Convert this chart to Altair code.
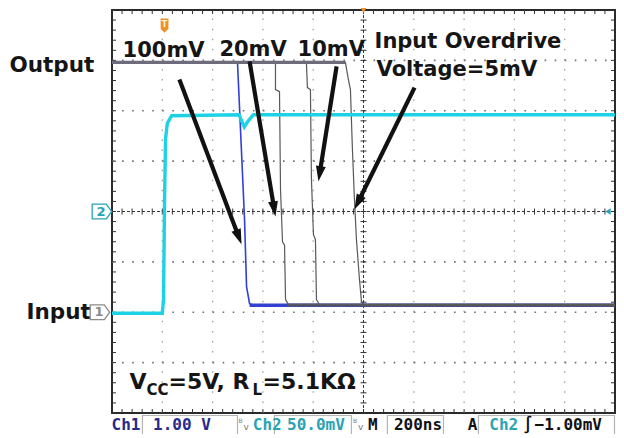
import math
import pandas as pd
import altair as alt

# ---------------- scope screen geometry (data units) ----------------
W, H = 503, 403                 # plot area in px
T_MIN, T_MAX = -1000, 1000      # time in ns (200 ns/div, trigger at 0)
V_MIN, V_MAX = -4, 4            # vertical divisions from screen centre

# ---------------- data ----------------
# Input (Ch2, cyan)
input_t = [-1000, -800, -795, -791, -787, -780, -763, -495, -474, -458, -438, 1000]
input_v = [-2.02, -2.02, -1.75, 0.25, 1.45, 1.75, 1.90, 1.92, 1.68, 1.80, 1.92, 1.92]

# Output traces for each input overdrive
od100_t = [-1000, -501, -473, -465, -453, -429, 1000]
od100_v = [2.96, 2.96, -0.16, -1.49, -1.83, -1.87, -1.87]
od20_t = [-1000, -350, -350, -334, -330, -322, -314, -310, -298, 1000]
od20_v = [2.96, 2.96, 2.42, 2.38, 0.44, -0.60, -0.67, -1.75, -1.85, -1.85]
od10_t = [-1000, -227, -223, -211, -207, -199, -191, -187, -175, 1000]
od10_v = [2.96, 2.96, 2.46, 2.42, 0.63, -0.46, -0.56, -1.75, -1.85, -1.85]
od5_t = [-1000, -72, -60, -52, -44, -36, -28, -16, -8, 4, 1000]
od5_v = [2.96, 2.96, 2.62, 2.42, 1.23, 0.24, -0.56, -1.35, -1.79, -1.87, -1.87]

# thick noisy bands of the overlapping output levels
high_band_t = [-1000, -72]
high_band_v = [2.96, 2.96]
blue_band_t = [-453, 1000]
blue_band_v = [-1.86, -1.86]
gray_band_t = [-305, 1000]
gray_band_v = [-1.86, -1.86]

# arrows (start -> tip)
arrow_t0 = [-732, -453, -107, 203]
arrow_v0 = [2.62, 2.98, 2.88, 2.46]
arrow_t1 = [-485, -350, -179, -36]
arrow_v1 = [-0.65, -0.10, 0.60, 0.04]

# annotation labels
ann_text = ["100mV", "20mV", "10mV", "Input Overdrive", "Voltage=5mV"]
ann_t = [-958, -573, -262, 44, 52]
ann_v = [3.06, 3.08, 3.08, 3.25, 2.68]
side_text = ["Output", "Input"]
side_t = [-1408, -1340]
side_v = [2.76, -2.14]

# V_CC / R_L caption pieces (text, size, dx px, dy px)
cap_t, cap_v = -930, -3.53
cap_pieces = [("V", 22, 0, 0), ("CC", 15, 17, 6), ("=5V, R", 22, 39, 0),
              ("L", 15, 123, 6), ("=5.1KΩ", 22, 133, 0)]

# status bar
NAVY, TEAL, BLACK = "#262a8c", "#2aa3b3", "#111111"
status_text = ["Ch1", "1.00 V", "Ch2", "50.0mV", "M", "200ns", "A", "Ch2", "∫", "−1.00mV"]
status_t = [-1002, -837, -440, -304, 18, 121, 415, 500, 634, 680]
status_col = [NAVY, NAVY, TEAL, TEAL, BLACK, BLACK, BLACK, TEAL, BLACK, BLACK]
status_v = -4.345
box_t0 = [-879, -354, 95, 457]
box_t1 = [-501, -48, 318, 998]
bw_t = [-497, -42]

# ---------------- helpers ----------------
xs = alt.Scale(domain=[T_MIN, T_MAX], nice=False, zero=False)
ys = alt.Scale(domain=[V_MIN, V_MAX], nice=False, zero=False)
PX_T = W / (T_MAX - T_MIN)
PX_V = H / (V_MAX - V_MIN)


def X(f):
    return alt.X(f + ":Q", scale=xs, axis=None)


def Y(f):
    return alt.Y(f + ":Q", scale=ys, axis=None)


def line_df(t, v):
    return pd.DataFrame({"t": t, "v": v, "i": list(range(len(t)))})


def trace(t, v, color, width, opacity=1.0):
    return alt.Chart(line_df(t, v)).mark_line(
        color=color, strokeWidth=width, opacity=opacity, interpolate="linear"
    ).encode(x=X("t"), y=Y("v"), order="i:Q")


layers = []

# ---------------- graticule ----------------
grid_t = [-800, -600, -400, -200, 200, 400, 600, 800]
grid_v = [-3, -2, -1, 1, 2, 3]
vg = pd.DataFrame({"t": grid_t, "v0": V_MIN, "v1": V_MAX})
layers.append(alt.Chart(vg).mark_rule(color="#a0a0a0", strokeWidth=1.3,
                                      strokeDash=[1.5, H / 40 - 1.5])
              .encode(x=X("t"), y=Y("v0"), y2=alt.Y2("v1")))
hg = pd.DataFrame({"v": grid_v, "t0": T_MIN, "t1": T_MAX})
layers.append(alt.Chart(hg).mark_rule(color="#707070", strokeWidth=1.6,
                                      strokeDash=[1.6, W / 50 - 1.6])
              .encode(y=Y("v"), x=X("t0"), x2=alt.X2("t1")))

# centre cross lines
cx = pd.DataFrame({"t": [0], "v0": [V_MIN], "v1": [V_MAX]})
layers.append(alt.Chart(cx).mark_rule(color="#3a3a3a", strokeWidth=1, strokeDash=[3, 2])
              .encode(x=X("t"), y=Y("v0"), y2=alt.Y2("v1")))
cy = pd.DataFrame({"v": [0], "t0": [T_MIN], "t1": [T_MAX]})
layers.append(alt.Chart(cy).mark_rule(color="#3a3a3a", strokeWidth=1, strokeDash=[3, 2])
              .encode(y=Y("v"), x=X("t0"), x2=alt.X2("t1")))

# minor ticks on frame and centre lines
minor_t = [T_MIN + 40 * i for i in range(51)]
minor_v = [V_MIN + 0.2 * i for i in range(41)]
ft_v = 4 / PX_V
ft_t = 4 / PX_T
ct_v = 3 / PX_V
ct_t = 3 / PX_T
rows = []
for t in minor_t:
    rows.append((t, t, V_MIN, V_MIN + ft_v))
    rows.append((t, t, V_MAX - ft_v, V_MAX))
    rows.append((t, t, -ct_v, ct_v))
for v in minor_v:
    rows.append((T_MIN, T_MIN + ft_t, v, v))
    rows.append((T_MAX - ft_t, T_MAX, v, v))
    rows.append((-ct_t, ct_t, v, v))
ticks = pd.DataFrame(rows, columns=["t0", "t1", "v0", "v1"])
layers.append(alt.Chart(ticks).mark_rule(color="#333333", strokeWidth=1)
              .encode(x=X("t0"), x2=alt.X2("t1"), y=Y("v0"), y2=alt.Y2("v1")))

# ---------------- output traces ----------------
layers.append(trace(blue_band_t, blue_band_v, "#3444c8", 3.4))
layers.append(trace(od100_t, od100_v, "#3040d8", 1.6))
layers.append(trace(gray_band_t, gray_band_v, "#50526e", 3.2, 0.9))
layers.append(trace(od20_t, od20_v, "#585858", 1.2))
layers.append(trace(od10_t, od10_v, "#585858", 1.2))
layers.append(trace(od5_t, od5_v, "#585858", 1.2))
layers.append(trace(high_band_t, high_band_v, "#6c6c7c", 3.4))

# ---------------- input trace ----------------
layers.append(trace(input_t, input_v, "#1ed2e6", 3.4))

# ---------------- arrows ----------------
arr = pd.DataFrame({"t0": arrow_t0, "v0": arrow_v0, "t1": arrow_t1, "v1": arrow_v1})
dxp = (arr.t1 - arr.t0) * PX_T
dyp = -(arr.v1 - arr.v0) * PX_V
L = (dxp ** 2 + dyp ** 2) ** 0.5
ux, uy = dxp / L, dyp / L
arr["te"] = arr.t1 - 10 * ux / PX_T
arr["ve"] = arr.v1 + 10 * uy / PX_V
arr["ang"] = [math.degrees(math.atan2(a, -b)) % 360 for a, b in zip(dxp, dyp)]
layers.append(alt.Chart(arr).mark_rule(color="#111111", strokeWidth=4.2, strokeCap="butt")
              .encode(x=X("t0"), y=Y("v0"), x2=alt.X2("te"), y2=alt.Y2("ve")))
layers.append(alt.Chart(arr).mark_point(shape="M0,0L0.55,1.7L-0.55,1.7Z", filled=True,
                                        size=324, color="#111111", opacity=1,
                                        strokeWidth=0)
              .encode(x=X("t1"), y=Y("v1"), angle=alt.Angle("ang:Q", scale=None)))

# ---------------- text ----------------
FONT = "DejaVu Sans"
ann = pd.DataFrame({"t": ann_t, "v": ann_v, "txt": ann_text})
layers.append(alt.Chart(ann).mark_text(font=FONT, fontWeight="bold", fontSize=21,
                                       color="#151515", align="left",
                                       baseline="alphabetic")
              .encode(x=X("t"), y=Y("v"), text="txt:N"))
side = pd.DataFrame({"t": side_t, "v": side_v, "txt": side_text})
layers.append(alt.Chart(side).mark_text(font=FONT, fontWeight="bold", fontSize=21.5,
                                        color="#151515", align="left",
                                        baseline="alphabetic")
              .encode(x=X("t"), y=Y("v"), text="txt:N"))
cap_df = pd.DataFrame({"t": [cap_t], "v": [cap_v]})
for txt, size, dx, dy in cap_pieces:
    layers.append(alt.Chart(cap_df).mark_text(font=FONT, fontWeight="bold", fontSize=size,
                                              color="#151515", align="left",
                                              baseline="alphabetic", dx=dx, dy=dy,
                                              text=txt)
                  .encode(x=X("t"), y=Y("v")))

# ---------------- scope markers ----------------
trig = pd.DataFrame({"t": [-791], "v": [3.69]})
layers.append(alt.Chart(trig).mark_point(shape="M-0.55,-1L0.55,-1L0.55,0.45L0,1L-0.55,0.45Z",
                                         filled=True, size=200, color="#f0902a",
                                         opacity=1, strokeWidth=0)
              .encode(x=X("t"), y=Y("v")))
layers.append(alt.Chart(trig).mark_text(text="T", font=FONT, fontWeight="bold", fontSize=8,
                                        color="#fff3d6", dy=-1)
              .encode(x=X("t"), y=Y("v")))
tpos = pd.DataFrame({"t": [0], "v": [4.0]})
layers.append(alt.Chart(tpos).mark_point(shape="triangle-down", filled=True, size=45,
                                         color="#f0902a", opacity=1)
              .encode(x=X("t"), y=Y("v")))
ch_mark = pd.DataFrame({"t": [-1040, -1048], "v": [0.0, -2.0],
                        "lab": ["2", "1"], "col": [TEAL, "#8a8a8a"]})
layers.append(alt.Chart(ch_mark).mark_point(shape="M-1,-0.75L0.45,-0.75L1,0L0.45,0.75L-1,0.75Z",
                                            filled=False, size=380, strokeWidth=1.3,
                                            opacity=1)
              .encode(x=X("t"), y=Y("v"), color=alt.Color("col:N", scale=None)))
layers.append(alt.Chart(ch_mark).mark_text(font=FONT, fontWeight="bold", fontSize=13,
                                           baseline="middle", dx=-1)
              .encode(x=X("t"), y=Y("v"), text="lab:N", color=alt.Color("col:N", scale=None)))
rmark = pd.DataFrame({"t": [972], "v": [0.0]})
layers.append(alt.Chart(rmark).mark_point(shape="triangle-left", filled=True, size=40,
                                          color=TEAL, opacity=1)
              .encode(x=X("t"), y=Y("v")))

# ---------------- status bar ----------------
boxes = pd.DataFrame({"t0": box_t0, "t1": box_t1, "v0": -4.05, "v1": -4.46})
layers.append(alt.Chart(boxes).mark_rect(fill=None, stroke="#b4b4b4", strokeWidth=1.2)
              .encode(x=X("t0"), x2=alt.X2("t1"), y=Y("v0"), y2=alt.Y2("v1")))
st = pd.DataFrame({"t": status_t, "v": status_v, "txt": status_text, "col": status_col})
layers.append(alt.Chart(st).mark_text(font="DejaVu Sans Mono", fontWeight="bold", fontSize=16,
                                      align="left", baseline="alphabetic")
              .encode(x=X("t"), y=Y("v"), text="txt:N", color=alt.Color("col:N", scale=None)))
bw = pd.DataFrame({"t": bw_t, "v": status_v})
layers.append(alt.Chart(bw).mark_text(text="B", font=FONT, fontSize=6, color="#7a7a7a",
                                      align="left", baseline="alphabetic", dy=-7)
              .encode(x=X("t"), y=Y("v")))
layers.append(alt.Chart(bw).mark_text(text="v", font=FONT, fontSize=9, color="#7a7a7a",
                                      align="left", baseline="alphabetic", dx=5)
              .encode(x=X("t"), y=Y("v")))

chart = alt.layer(*layers).properties(
    width=W, height=H,
    padding={"left": 104, "top": 2, "right": 1, "bottom": 21},
    autosize=alt.AutoSizeParams(type="none"),
    background="white",
).configure_view(stroke="#2a2a2a", strokeWidth=2)

chart.save("out.html", embed_options={"renderer": "svg", "actions": False})
